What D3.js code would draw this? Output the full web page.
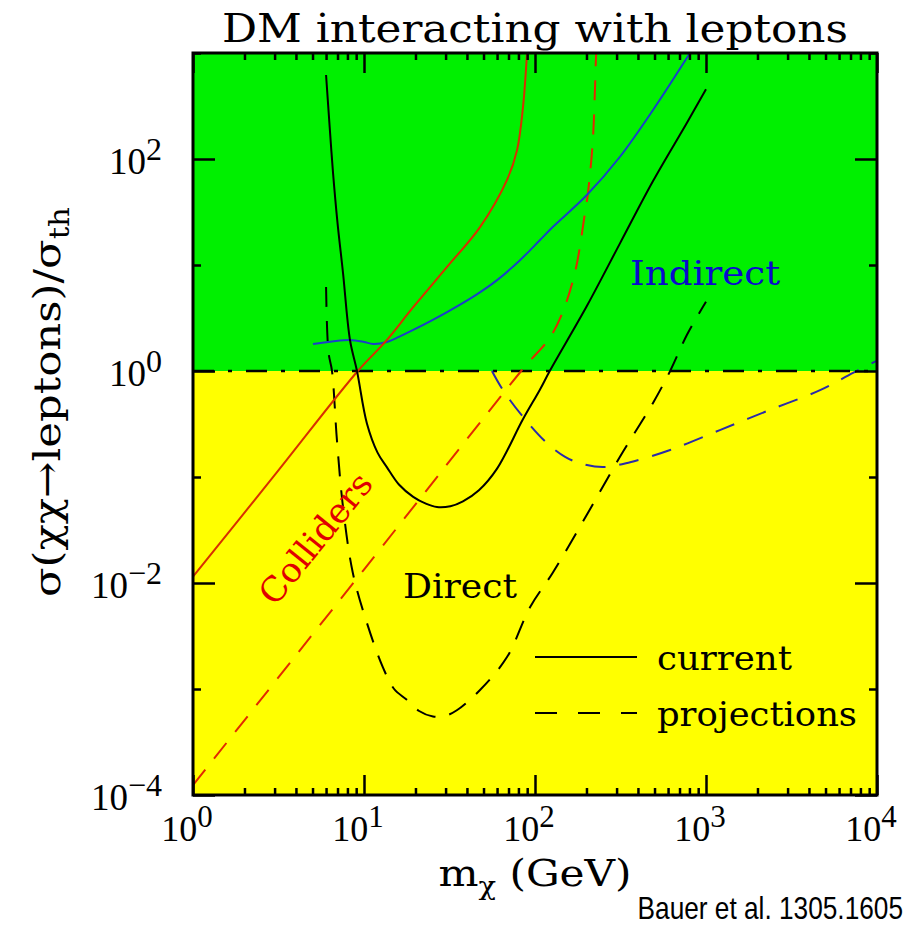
<!DOCTYPE html>
<html>
<head>
<meta charset="utf-8">
<script src="https://cdn.jsdelivr.net/npm/d3@7"></script>
<style>
  body { margin: 0; background: #fff; }
  svg { display: block; }
</style>
</head>
<body>
<svg id="chart"></svg>
<script>
// DM interacting with leptons (Bauer et al. 1305.1605)
// every point is [m_chi in GeV, sigma / sigma_th]

const collidersCurrent = [
  [1, 0.0115], [3, 0.104], [9.2, 1.0], [13.3, 1.88], [19.4, 4.0], [30.6, 9.6],
  [47.7, 22.8], [68.6, 63.6], [78.5, 121], [85.1, 310], [89.8, 1000]
]

const collidersProjection = [
  [1, 0.000124], [10, 0.0134], [83, 1.0], [127, 2.28], [167, 7.2],
  [196, 31], [204, 48], [218, 151], [227, 860], [228, 1000]
]

const directCurrent = [
  [6.0, 620], [6.3, 200], [6.59, 74], [7.0, 25], [7.54, 8.4], [8.28, 1.96],
  [9.1, 1.0], [10.4, 0.32], [12, 0.17], [13.6, 0.124], [16, 0.085], [19.4, 0.065],
  [23, 0.056], [26.7, 0.052], [32, 0.053], [37.9, 0.059], [47, 0.075], [60, 0.12],
  [85, 0.35], [107, 0.67], [122, 1.0], [201, 4.1], [314, 16], [490, 62],
  [774, 220], [1000, 455]
]

const directProjection = [
  [6.0, 6.2], [6.2, 1.5], [6.5, 1.0], [6.95, 0.22], [7.54, 0.052], [8.6, 0.0125],
  [10.4, 0.0042], [12.9, 0.0016], [15, 0.001], [17.8, 0.00079], [21, 0.00062],
  [25.3, 0.00055], [30, 0.00056], [34.9, 0.00063], [47.7, 0.00098], [68.6, 0.002],
  [93.5, 0.0059], [127, 0.0125], [201, 0.044], [314, 0.155], [490, 0.5],
  [617, 1.0], [774, 2.2], [1000, 4.5]
]

const indirectCurrent = [
  [5.03, 1.8], [6.5, 1.9], [8.28, 1.96], [10, 1.88], [11.3, 1.8], [13.6, 1.88],
  [16, 2.1], [19.4, 2.44], [30.6, 3.6], [45, 5.2], [60, 7.2], [81.7, 11.1],
  [107, 17.2], [127, 22.8], [201, 45.7], [314, 105], [490, 290], [806, 1000]
]

const indirectProjection = [
  [56, 1.0], [65, 0.66], [85, 0.37], [117, 0.21], [150, 0.155], [183, 0.135],
  [250, 0.124], [360, 0.138], [617, 0.18], [1205, 0.277], [2366, 0.43],
  [4645, 0.66], [7240, 0.96], [10000, 1.25]
]

const thermalLine = 1 // sigma = sigma_th, border between green and yellow

const xDomain = [1, 1e4]
const yDomain = [1e-4, 1e3]
const xTickValues = [1, 10, 100, 1000, 10000]
const xTickExponents = ["0", "1", "2", "3", "4"]
const yTickValues = [1e-4, 1e-3, 1e-2, 1e-1, 1, 10, 100, 1000]
const yLabelValues = [1e-4, 1e-2, 1, 100]
const yTickExponents = ["\u22124", "\u22122", "0", "2"]

const width = 913
const height = 933
const plot = { left: 193, right: 877, top: 53, bottom: 795 }

const svg = d3.select("#chart")
  .attr("width", width)
  .attr("height", height)

const x = d3.scaleLog().domain(xDomain).range([plot.left, plot.right])
const y = d3.scaleLog().domain(yDomain).range([plot.bottom, plot.top])

renderBackground(svg, x, y)
renderCurves(svg, x, y)
renderAxes(svg, x, y)
renderLabels(svg, x, y)
renderLegend(svg)

function renderBackground(svg, x, y) {
  svg.append("rect")
    .attr("x", plot.left).attr("y", y(yDomain[1]))
    .attr("width", plot.right - plot.left)
    .attr("height", y(thermalLine) - y(yDomain[1]))
    .attr("fill", "#00f000")

  svg.append("rect")
    .attr("x", plot.left).attr("y", y(thermalLine))
    .attr("width", plot.right - plot.left)
    .attr("height", y(yDomain[0]) - y(thermalLine))
    .attr("fill", "#ffff00")

  svg.append("line")
    .attr("x1", plot.left).attr("x2", plot.right)
    .attr("y1", y(thermalLine)).attr("y2", y(thermalLine))
    .attr("stroke", "#000")
    .attr("stroke-width", 2.5)
    .attr("stroke-dasharray", "21,14,4,14")
}

function renderCurves(svg, x, y) {
  svg.append("clipPath").attr("id", "plot-clip")
    .append("rect")
    .attr("x", plot.left).attr("y", plot.top)
    .attr("width", plot.right - plot.left)
    .attr("height", plot.bottom - plot.top)

  const series = [
    { data: indirectProjection, color: "#2b2ba8", dash: "20,14" },
    { data: directProjection, color: "#000", dash: "20,14" },
    { data: collidersProjection, color: "#e22a00", dash: "20,14" },
    { data: indirectCurrent, color: "#1a40c8", dash: null },
    { data: collidersCurrent, color: "#d83000", dash: null },
    { data: directCurrent, color: "#000", dash: null }
  ]

  const line = d3.line()
    .x(d => x(d[0]))
    .y(d => y(d[1]))
    .curve(d3.curveCatmullRom.alpha(0.5))

  svg.append("g")
    .attr("clip-path", "url(#plot-clip)")
    .selectAll("path")
    .data(series)
    .join("path")
      .attr("d", d => line(d.data))
      .attr("fill", "none")
      .attr("stroke", d => d.color)
      .attr("stroke-width", 2)
      .attr("stroke-dasharray", d => d.dash)
}

function styleTicks(g) {
  g.select(".domain").remove()
  g.selectAll(".tick text").remove()
  g.selectAll(".tick line")
    .attr("stroke", "#000")
    .attr("stroke-width", 2.5)
}

function renderAxes(svg, x, y) {
  const minors = x.ticks().filter(d => !xTickValues.includes(d))
  const yMinors = yTickValues.filter(d => !yLabelValues.includes(d))

  // ticks point inward on all four sides
  const sides = [
    [d3.axisBottom, `translate(0,${plot.bottom})`, x, minors, 7],
    [d3.axisBottom, `translate(0,${plot.bottom})`, x, xTickValues, 20],
    [d3.axisTop, `translate(0,${plot.top})`, x, minors, 7],
    [d3.axisTop, `translate(0,${plot.top})`, x, xTickValues, 20],
    [d3.axisLeft, `translate(${plot.left},0)`, y, yMinors, 8],
    [d3.axisLeft, `translate(${plot.left},0)`, y, yLabelValues, 22],
    [d3.axisRight, `translate(${plot.right},0)`, y, yMinors, 8],
    [d3.axisRight, `translate(${plot.right},0)`, y, yLabelValues, 22]
  ]

  sides.forEach(([axis, transform, scale, values, size]) => {
    svg.append("g")
      .attr("transform", transform)
      .call(axis(scale).tickValues(values).tickSize(-size).tickFormat(""))
      .call(styleTicks)
  })

  svg.append("rect")
    .attr("x", plot.left).attr("y", plot.top)
    .attr("width", plot.right - plot.left)
    .attr("height", plot.bottom - plot.top)
    .attr("fill", "none")
    .attr("stroke", "#000")
    .attr("stroke-width", 3)

  // tick labels 10^n
  const xLabels = svg.append("g")
    .selectAll("text")
    .data(xTickValues)
    .join("text")
      .attr("x", d => x(d) - 6)
      .attr("y", plot.bottom + 46)
      .attr("text-anchor", "middle")
      .attr("font-family", "Liberation Serif")
      .attr("font-size", 36)
  xLabels.append("tspan").text("10")
  xLabels.append("tspan")
    .attr("dy", -14)
    .attr("font-size", 31)
    .text((d, i) => xTickExponents[i])

  const yLabels = svg.append("g")
    .selectAll("text")
    .data(yLabelValues)
    .join("text")
      .attr("x", plot.left - 31)
      .attr("y", d => y(d) + 15)
      .attr("text-anchor", "end")
      .attr("font-family", "Liberation Serif")
      .attr("font-size", 37)
  yLabels.append("tspan").text("10")
  yLabels.append("tspan")
    .attr("dy", -14)
    .attr("font-size", 32)
    .text((d, i) => yTickExponents[i])
}

function renderLabels(svg, x, y) {
  const serif = "DejaVu Serif"
  const center = (plot.left + plot.right) / 2

  svg.append("text")
    .attr("x", center).attr("y", 42)
    .attr("text-anchor", "middle")
    .attr("font-family", serif)
    .attr("font-size", 40)
    .attr("textLength", 626)
    .attr("lengthAdjust", "spacingAndGlyphs")
    .text("DM interacting with leptons")

  const xTitle = svg.append("text")
    .attr("x", center).attr("y", 886)
    .attr("text-anchor", "middle")
    .attr("font-family", serif)
    .attr("font-size", 38)
    .attr("textLength", 193)
    .attr("lengthAdjust", "spacingAndGlyphs")
  xTitle.append("tspan").text("m")
  xTitle.append("tspan").attr("dy", 9).attr("font-size", 26).text("\u03c7")
  xTitle.append("tspan").attr("dy", -9).text(" (GeV)")

  const yTitle = svg.append("text")
    .attr("transform", `translate(60, 402) rotate(-90)`)
    .attr("text-anchor", "middle")
    .attr("font-family", serif)
    .attr("font-size", 38)
    .attr("textLength", 390)
    .attr("lengthAdjust", "spacingAndGlyphs")
  yTitle.append("tspan").text("\u03c3(\u03c7\u03c7\u2192leptons)/\u03c3")
  yTitle.append("tspan").attr("dy", 9).attr("font-size", 27).text("th")

  svg.append("text")
    .attr("x", x(360)).attr("y", y(6.5))
    .attr("font-family", serif)
    .attr("font-size", 34)
    .attr("fill", "#0a0acc")
    .attr("textLength", 150)
    .attr("lengthAdjust", "spacingAndGlyphs")
    .text("Indirect")

  svg.append("text")
    .attr("x", x(16.9)).attr("y", y(0.0072))
    .attr("font-family", serif)
    .attr("font-size", 34)
    .attr("fill", "#000")
    .attr("textLength", 114)
    .attr("lengthAdjust", "spacingAndGlyphs")
    .text("Direct")

  svg.append("text")
    .attr("transform", `translate(${x(5.9)}, ${y(0.0224)}) rotate(-51)`)
    .attr("text-anchor", "middle")
    .attr("font-family", serif)
    .attr("font-size", 34)
    .attr("fill", "#e00000")
    .attr("textLength", 158)
    .attr("lengthAdjust", "spacingAndGlyphs")
    .text("Colliders")

  // narrower than plain Arial in the source slide
  svg.append("text")
    .attr("transform", "translate(903, 919) scale(0.82, 1)")
    .attr("text-anchor", "end")
    .attr("font-family", "Liberation Sans")
    .attr("font-size", 32)
    .text("Bauer et al. 1305.1605")
}

function renderLegend(svg) {
  const entries = [
    { label: "current", dash: null, width: 135 },
    { label: "projections", dash: "22,21", width: 200 }
  ]

  const g = svg.append("g")
    .attr("transform", "translate(535, 657)")

  const rows = g.selectAll("g")
    .data(entries)
    .join("g")
    .attr("transform", (d, i) => `translate(0, ${i * 56})`)

  rows.append("line")
    .attr("x1", 0).attr("x2", 102)
    .attr("stroke", "#000")
    .attr("stroke-width", 2)
    .attr("stroke-dasharray", d => d.dash)

  rows.append("text")
    .attr("x", 122).attr("y", 13)
    .attr("font-family", "DejaVu Serif")
    .attr("font-size", 34)
    .attr("textLength", d => d.width)
    .attr("lengthAdjust", "spacingAndGlyphs")
    .text(d => d.label)
}
</script>
</body>
</html>
